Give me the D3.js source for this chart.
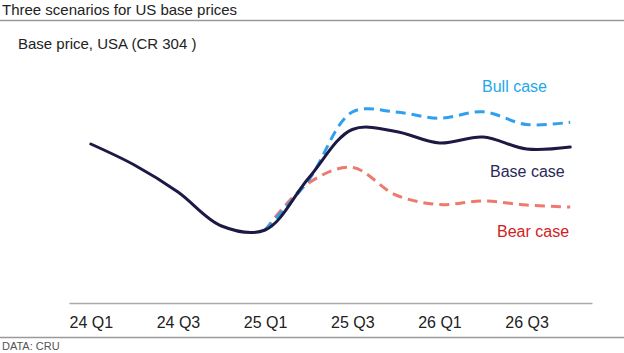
<body style="margin:0"></body>

<script type='text/javascript' src='https://d3js.org/d3.v7.min.js'></script>
<script>
    var width = 624, height = 353;

    // quarters on the x axis, labels shown every second quarter
    var quarters = ["24 Q1", "24 Q2", "24 Q3", "24 Q4", "25 Q1", "25 Q2",
        "25 Q3", "25 Q4", "26 Q1", "26 Q2", "26 Q3", "26 Q4"];
    var tickLabels = ["24 Q1", "24 Q3", "25 Q1", "25 Q3", "26 Q1", "26 Q3"];

    // price index (no y axis in the original)
    var baseCase = [63.2, 54.8, 44, 30.4, 28.8, 49.6, 69, 68.2, 63.6, 66, 61.2, 62];
    var bullCase = [null, null, null, null, 28.8, 48.8, 76, 76, 73.5, 76.1, 71, 71.9];
    var bearCase = [null, null, null, null, 28.8, 47.6, 53.8, 42.8, 39, 40.4, 38.8, 38];

    var font = "'Liberation Sans', Arial, sans-serif";

    var svg = d3.select('body').append('svg')
        .attr('width', width).attr('height', height)
        .style('font-family', font);

    // header
    svg.append('text').attr('x', 2).attr('y', 15)
        .style('font-size', '15px').attr('fill', '#222')
        .text('Three scenarios for US base prices');
    svg.append('line').attr('x1', 0).attr('x2', width).attr('y1', 20.5).attr('y2', 20.5)
        .attr('stroke', '#9a9a9a').attr('stroke-width', 1.5);
    svg.append('text').attr('x', 18).attr('y', 49)
        .style('font-size', '15px').attr('fill', '#222')
        .text('Base price, USA (CR 304 )');

    var x = d3.scalePoint().domain(quarters).range([69, 592]).padding(0.5);
    var y = d3.scaleLinear().domain([0, 100]).range([302, 52]);

    // x axis: plain grey line, no ticks
    var xAxis = svg.append('g')
        .attr('transform', 'translate(0,303)')
        .call(d3.axisBottom(x).tickValues(tickLabels).tickSize(0).tickPadding(14));
    xAxis.select('.domain').attr('stroke', '#aaa').attr('stroke-width', 1.5);
    xAxis.selectAll('text').style('font-size', '16px').style('font-family', font).attr('fill', '#222');

    var line = d3.line()
        .defined(function (d) { return d != null; })
        .x(function (d, i) { return x(quarters[i]); })
        .y(function (d) { return y(d); })
        .curve(d3.curveCatmullRom.alpha(0.5));

    // scenario lines
    svg.append('path').datum(bearCase)
        .attr('d', line).attr('fill', 'none')
        .attr('stroke', '#ee7a6e').attr('stroke-width', 3)
        .attr('stroke-dasharray', '10,6');
    svg.append('path').datum(bullCase)
        .attr('d', line).attr('fill', 'none')
        .attr('stroke', '#2fa0f0').attr('stroke-width', 3)
        .attr('stroke-dasharray', '10,6');
    svg.append('path').datum(baseCase)
        .attr('d', line).attr('fill', 'none')
        .attr('stroke', '#1c1a45').attr('stroke-width', 3)
        .attr('stroke-linecap', 'round');

    // direct labels
    var labels = [
        { text: 'Bull case', x: 482, y: 92, color: '#1ea8ea' },
        { text: 'Base case', x: 490, y: 177, color: '#2b2858' },
        { text: 'Bear case', x: 497, y: 237, color: '#d0221e' }
    ];
    svg.selectAll('.lbl').data(labels).join('text')
        .attr('class', 'lbl')
        .attr('x', function (d) { return d.x; })
        .attr('y', function (d) { return d.y; })
        .attr('fill', function (d) { return d.color; })
        .style('font-size', '16px')
        .text(function (d) { return d.text; });

    // footer
    svg.append('line').attr('x1', 0).attr('x2', width).attr('y1', 337.5).attr('y2', 337.5)
        .attr('stroke', '#9a9a9a').attr('stroke-width', 1.5);
    svg.append('text').attr('x', 2).attr('y', 350)
        .style('font-size', '11px').attr('fill', '#555')
        .text('DATA: CRU');
</script>
